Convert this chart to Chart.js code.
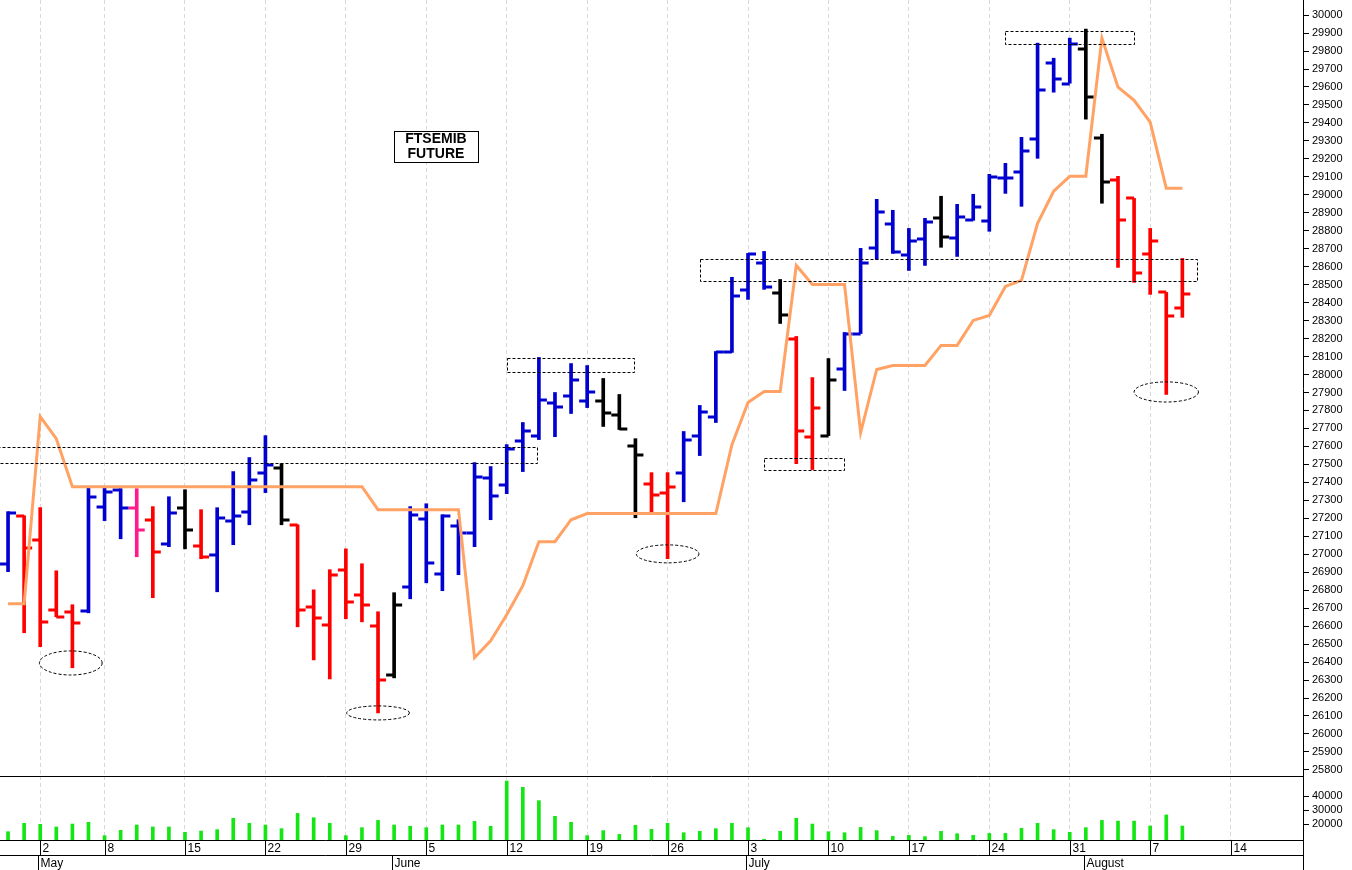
<!DOCTYPE html>
<html>
<head>
<meta charset="utf-8">
<script src="https://cdn.jsdelivr.net/npm/chart.js@4.4.1/dist/chart.umd.min.js"></script>
<style>
  body { margin: 0; background: #fff; }
  #wrapMain { position: absolute; left: 0; top: 0; width: 1352px; height: 776px; }
  #wrapVol { position: absolute; left: 0; top: 776px; width: 1352px; height: 94px; }
</style>
</head>
<body>
<div id="wrapMain"><canvas id="mainChart" width="1352" height="776"></canvas></div>
<div id="wrapVol"><canvas id="volChart" width="1352" height="94"></canvas></div>
<script>
// trading days, Apr 27 - Aug 9 plus empty slots to Aug 18
const days = [27, 28, 2, 3, 4, 5, 8, 9, 10, 11, 12, 15, 16, 17, 18, 19, 22, 23, 24, 25, 26,
  29, 30, 31, 1, 2, 5, 6, 7, 8, 9, 12, 13, 14, 15, 16, 19, 20, 21, 22, 23, 26, 27, 28, 29, 30,
  3, 4, 5, 6, 7, 10, 11, 12, 13, 14, 17, 18, 19, 20, 21, 24, 25, 26, 27, 28,
  31, 1, 2, 3, 4, 7, 8, 9, 10, 11, 14, 15, 16, 17, 18];
const weekStarts = [2, 6, 11, 16, 21, 26, 31, 36, 41, 46, 51, 56, 61, 66, 71, 76];
const monthStarts = [2, 24, 46, 67];
const monthNames = ['May', 'June', 'July', 'August'];

const opens = [26947, 27214, 27081, 26691, 26680, 26685, 27265, 27359, 27259, 27192,
  27058, 27259, 27047, 26997, 27187, 27237, 27454, 27482, 27164, 26708,
  26607, 26914, 26774, 26602, 26329, 26819, 27198, 26891, 27159, 27120,
  27426, 27387, 27632, 27660, 27839, 27883, 27855, 27855, 27777, 27604,
  27393, 27343, 27454, 27660, 27766, 28123, 28468, 28618, 28451, 28200,
  27655, 27660, 28028, 28228, 28702, 28836, 28663, 28752, 28869, 28758,
  28858, 28853, 29092, 29125, 29309, 29733, 29616, 29811, 29315, 29081,
  28980, 28669, 28457, 28368];
const highs = [27237, 27214, 27259, 26908, 26719, 27370, 27370, 27365, 27365, 27265,
  27320, 27359, 27248, 27259, 27460, 27538, 27660, 27504, 27164, 26802,
  26914, 27030, 26947, 26680, 26786, 27265, 27281, 27220, 27192, 27510,
  27488, 27610, 27733, 28095, 27900, 28061, 28050, 27978, 27889, 27643,
  27454, 27454, 27683, 27828, 28128, 28541, 28674, 28685, 28529, 28212,
  27983, 28089, 28234, 28702, 28975, 28914, 28813, 28869, 28992, 28947,
  29003, 29114, 29175, 29320, 29844, 29760, 29872, 29922, 29337, 29103,
  28980, 28813, 28457, 28646];
const lows = [26903, 26563, 26485, 26652, 26368, 26674, 27187, 27086, 26986, 26758,
  27042, 27030, 26975, 26791, 27053, 27164, 27343, 27164, 26596, 26412,
  26306, 26641, 26624, 26117, 26312, 26752, 26841, 26797, 26886, 27042,
  27192, 27337, 27460, 27638, 27654, 27783, 27816, 27711, 27694, 27203,
  27231, 26975, 27292, 27549, 27733, 28123, 28418, 28474, 28284, 27504,
  27471, 27660, 27911, 28228, 28641, 28674, 28579, 28607, 28708, 28657,
  28858, 28797, 29008, 28936, 29203, 29571, 29621, 29421, 28953, 28596,
  28513, 28446, 27889, 28318];
const closes = [27231, 27036, 26624, 26652, 26618, 27320, 27348, 27259, 27136, 27014,
  27231, 27136, 26986, 27203, 27214, 27415, 27499, 27192, 26691, 26646,
  26886, 26735, 26719, 26301, 26719, 27220, 26953, 27214, 27120, 27432,
  27326, 27588, 27683, 27861, 27822, 27967, 27900, 27788, 27699, 27554,
  27332, 27376, 27638, 27794, 28123, 28435, 28669, 28485, 28329, 27688,
  27816, 27972, 28223, 28618, 28903, 28680, 28741, 28847, 28763, 28875,
  28930, 29098, 29092, 29242, 29582, 29643, 29838, 29543, 29070, 28858,
  28563, 28741, 28323, 28446];
// u = up (blue), d = down (red), n = neutral (black), m = magenta
const kinds = ['u', 'd', 'd', 'd', 'd', 'u', 'u', 'u', 'm', 'd',
  'u', 'n', 'd', 'u', 'u', 'u', 'u', 'n', 'd', 'd',
  'd', 'd', 'd', 'd', 'n', 'u', 'u', 'u', 'u', 'u',
  'u', 'u', 'u', 'u', 'u', 'u', 'u', 'n', 'n', 'n',
  'd', 'd', 'u', 'u', 'u', 'u', 'u', 'u', 'n', 'd',
  'd', 'n', 'u', 'u', 'u', 'u', 'u', 'u', 'n', 'u',
  'u', 'u', 'u', 'u', 'u', 'u', 'u', 'n', 'n', 'd',
  'd', 'd', 'd', 'd'];
const trend = [26724, 26724, 27766, 27643, 27376, 27376, 27376, 27376, 27376, 27376,
  27376, 27376, 27376, 27376, 27376, 27376, 27376, 27376, 27376, 27376,
  27376, 27376, 27376, 27248, 27248, 27248, 27248, 27248, 27248, 26424,
  26518, 26663, 26825, 27070, 27070, 27192, 27226, 27226, 27226, 27226,
  27226, 27226, 27226, 27226, 27226, 27610, 27844, 27905, 27905, 28607,
  28501, 28501, 28501, 27677, 28028, 28050, 28050, 28050, 28162, 28162,
  28301, 28329, 28490, 28524, 28841, 29020, 29103, 29103, 29872, 29599,
  29526, 29404, 29036, 29036];
const volumes = [14550, 20500, 19800, 17900, 20000, 21200, 11700, 15500, 19300, 17900,
  17900, 14100, 15000, 16000, 24100, 20500, 19300, 16700, 27600, 24500,
  20500, 11700, 17400, 22600, 19300, 18400, 17400, 19300, 19300, 21900,
  18400, 50700, 46200, 36700, 25500, 21200, 11700, 15300, 12600, 19100,
  16200, 20500, 13800, 14800, 16700, 20500, 17400, 9100, 14800, 24100,
  20000, 14550, 13800, 17600, 15300, 11200, 11900, 11000, 14800, 13100,
  11900, 13300, 13300, 16900, 20500, 16000, 14100, 17400, 22600, 22100,
  22100, 18600, 26500, 18600];

const colorOf = { u: '#0000d0', d: '#ff0000', n: '#000000', m: '#ff1a8c' };
const FONT = '"Liberation Sans", Arial, sans-serif';

// dashed boxes [xFrom, xTo, priceTop, priceBottom]
const boxes = [[-1, 32.9, 27597, 27508], [31, 38.9, 28092, 28014], [43, 73.9, 28643, 28521],
  [47, 52, 27536, 27469], [62, 70, 29912, 29839]];
// dashed ellipses [xCenter, price, rx (days), ry (price)]
const ellipses = [[3.9, 26395, 1.95, 67], [23, 26117, 1.95, 39], [41, 27002, 1.95, 50], [72, 27903, 2, 56]];

function weekGrid(ctx) {
  return weekStarts.includes(ctx.index) ? '#d8d8d8' : 'rgba(0,0,0,0)';
}

const ohlcTicks = {
  id: 'ohlcTicks',
  afterDatasetDraw(chart, args) {
    if (args.index !== 0) return;
    const c = chart.ctx, x = chart.scales.x, y = chart.scales.y;
    c.save();
    c.lineWidth = 3;
    for (let i = 0; i < opens.length; i++) {
      const px = x.getPixelForValue(i);
      c.strokeStyle = colorOf[kinds[i]];
      c.beginPath();
      c.moveTo(px - 8, Math.round(y.getPixelForValue(opens[i])));
      c.lineTo(px, Math.round(y.getPixelForValue(opens[i])));
      c.moveTo(px, Math.round(y.getPixelForValue(closes[i])));
      c.lineTo(px + 8, Math.round(y.getPixelForValue(closes[i])));
      c.stroke();
    }
    c.restore();
  },
  afterDatasetsDraw(chart) {
    const c = chart.ctx, x = chart.scales.x, y = chart.scales.y;
    const dayW = x.getPixelForValue(1) - x.getPixelForValue(0);
    c.save();
    c.strokeStyle = '#000';
    c.lineWidth = 1;
    c.setLineDash([3, 2]);
    boxes.forEach(b => {
      const x1 = x.getPixelForValue(0) + b[0] * dayW, x2 = x.getPixelForValue(0) + b[1] * dayW;
      const y1 = y.getPixelForValue(b[2]), y2 = y.getPixelForValue(b[3]);
      c.strokeRect(Math.round(x1) + 0.5, Math.round(y1) + 0.5, Math.round(x2 - x1), Math.round(y2 - y1));
    });
    ellipses.forEach(e => {
      const cx = x.getPixelForValue(0) + e[0] * dayW, cy = y.getPixelForValue(e[1]);
      const ry = y.getPixelForValue(e[1] - e[3]) - cy;
      c.beginPath();
      c.ellipse(cx, cy, e[2] * dayW, ry, 0, 0, Math.PI * 2);
      c.stroke();
    });
    c.setLineDash([]);
    // title box
    const tx = x.getPixelForValue(0) + 26.6 * dayW, ty = y.getPixelForValue(29355);
    c.fillStyle = '#fff';
    c.fillRect(tx - 42, ty, 84, 31);
    c.strokeRect(Math.round(tx - 42) + 0.5, Math.round(ty) + 0.5, 84, 31);
    c.fillStyle = '#000';
    c.font = 'bold 14px ' + FONT;
    c.textAlign = 'center';
    c.textBaseline = 'middle';
    c.fillText('FTSEMIB', tx, ty + 8);
    c.fillText('FUTURE', tx, ty + 23);
    c.restore();
  }
};

const dateAxis = {
  id: 'dateAxis',
  afterDraw(chart) {
    const c = chart.ctx, x = chart.scales.x, a = chart.chartArea;
    c.save();
    c.strokeStyle = '#000';
    c.lineWidth = 1;
    c.beginPath();
    c.moveTo(0, a.top + 0.5); c.lineTo(a.right, a.top + 0.5);
    c.moveTo(0, a.bottom + 0.5); c.lineTo(a.right, a.bottom + 0.5);
    c.moveTo(0, a.bottom + 15.5); c.lineTo(a.right, a.bottom + 15.5);
    c.moveTo(a.right + 0.5, a.bottom); c.lineTo(a.right + 0.5, a.bottom + 30);
    c.stroke();
    c.font = '12px ' + FONT;
    c.fillStyle = '#000';
    c.textBaseline = 'middle';
    c.textAlign = 'left';
    weekStarts.forEach(i => {
      const px = Math.round(x.getPixelForValue(i)) + 0.5;
      c.beginPath(); c.moveTo(px, a.bottom); c.lineTo(px, a.bottom + 15); c.stroke();
      c.fillText(String(days[i]), px + 2, a.bottom + 8.5);
    });
    monthStarts.forEach((i, k) => {
      const px = Math.round(x.getPixelForValue(i) - 2) + 0.5;
      c.beginPath(); c.moveTo(px, a.bottom + 15); c.lineTo(px, a.bottom + 30); c.stroke();
      c.fillText(monthNames[k], px + 2, a.bottom + 23.5);
    });
    c.restore();
  }
};

function xAxis() {
  return {
    type: 'category',
    offset: true,
    grid: { offset: false, color: weekGrid, drawTicks: false },
    border: { display: false, dash: [4, 3] },
    ticks: { display: false },
    afterFit(scale) { scale.height = 0; scale.paddingLeft = 0; scale.paddingRight = 0; }
  };
}

function fitRight(scale) {
  scale.width = 49;
  scale.paddingTop = 0;
  scale.paddingBottom = 0;
}

Chart.defaults.font.family = FONT;
Chart.defaults.color = '#000';

new Chart(document.getElementById('mainChart'), {
  data: {
    labels: days,
    datasets: [
      {
        type: 'bar',
        data: lows.map((l, i) => [l, highs[i]]),
        backgroundColor: kinds.map(k => colorOf[k]),
        barThickness: 3,
        order: 2
      },
      {
        type: 'line',
        data: trend,
        borderColor: '#ffa264',
        borderWidth: 3,
        pointRadius: 0,
        tension: 0,
        order: 1
      }
    ]
  },
  options: {
    responsive: false,
    animation: false,
    layout: { padding: 0 },
    plugins: { legend: { display: false }, tooltip: { enabled: false } },
    scales: {
      x: xAxis(),
      y: {
        position: 'right',
        min: 25766,
        max: 30084,
        afterBuildTicks(scale) {
          const t = [];
          for (let v = 25800; v <= 30000; v += 100) t.push({ value: v });
          scale.ticks = t;
        },
        afterFit: fitRight,
        grid: { drawOnChartArea: false, drawTicks: true, tickLength: 6, color: '#000' },
        border: { display: true, color: '#000' },
        ticks: { font: { size: 11 }, padding: 3, callback: v => String(v) }
      }
    }
  },
  plugins: [ohlcTicks]
});

new Chart(document.getElementById('volChart'), {
  type: 'bar',
  data: {
    labels: days,
    datasets: [{ data: volumes, backgroundColor: '#14e614', barThickness: 3 }]
  },
  options: {
    responsive: false,
    animation: false,
    layout: { padding: { bottom: 30 } },
    plugins: { legend: { display: false }, tooltip: { enabled: false } },
    scales: {
      x: xAxis(),
      y: {
        position: 'right',
        min: 8600,
        max: 54300,
        afterBuildTicks(scale) {
          scale.ticks = [{ value: 20000 }, { value: 30000 }, { value: 40000 }];
        },
        afterFit: fitRight,
        grid: { drawOnChartArea: false, drawTicks: true, tickLength: 6, color: '#000' },
        border: { display: true, color: '#000' },
        ticks: { font: { size: 11 }, padding: 3, callback: v => String(v) }
      }
    }
  },
  plugins: [dateAxis]
});
</script>
</body>
</html>
